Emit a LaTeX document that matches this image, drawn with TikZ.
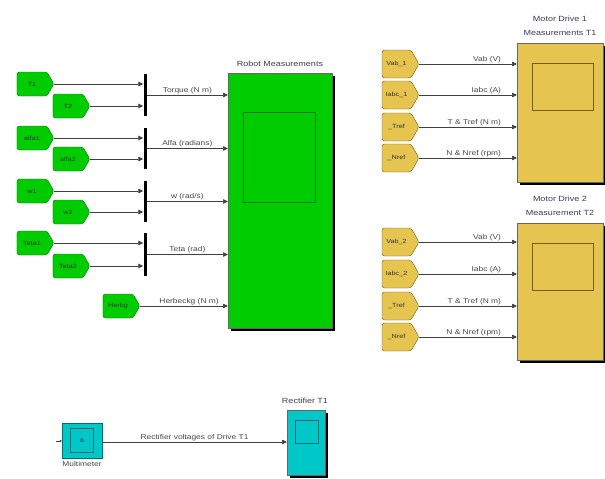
\documentclass[tikz,border=0pt]{standalone}
\usepackage{fontspec}
\setmainfont[FakeStretch=1.2]{Liberation Sans}
\usetikzlibrary{arrows.meta,shapes.symbols,shadows}
\definecolor{sgreen}{RGB}{0,204,0}
\definecolor{sgreendk}{RGB}{0,120,0}
\definecolor{syellow}{RGB}{230,196,80}
\definecolor{syellowdk}{RGB}{120,95,20}
\definecolor{scyan}{RGB}{0,200,200}
\definecolor{scyandk}{RGB}{0,110,110}
\definecolor{txt}{RGB}{70,70,80}
\definecolor{titlec}{RGB}{60,60,90}
\begin{document}
\begin{tikzpicture}[x=1pt,y=-1pt,
  tagbase/.style={signal, signal to=east, signal pointer angle=120, rounded corners=2.5pt,
    minimum width=37pt, inner sep=0pt, font=\fontsize{6}{7}\selectfont, text=black!80},
  gtag/.style={tagbase, draw=sgreendk, fill=sgreen, minimum height=24pt},
  ytag/.style={tagbase, draw=syellowdk, fill=syellow, minimum height=28pt},
  bus/.style={fill=black, inner sep=0pt, minimum width=3pt},
  sig/.style={draw=black!75, line width=0.7pt, -{Triangle[length=5pt,width=4.5pt]}},
  plain/.style={draw=black!75, line width=0.7pt},
  lab/.style={font=\fontsize{7}{8}\selectfont, text=txt, inner sep=1pt},
  scopebox/.style={draw=black!60, line width=0.5pt, inner sep=0pt, anchor=north west,
    drop shadow={shadow xshift=3pt, shadow yshift=-3pt, fill=black, opacity=1}},
  scrn/.style={line width=0.9pt, inner sep=0pt, anchor=north west},
  ttl/.style={font=\fontsize{7.5}{14}\selectfont, text=titlec, align=center}
]
\useasboundingbox (0,0) rectangle (605,479);
\fill[white] (0,0) rectangle (605,479);

% ---------- Robot measurements scope ----------
\node[scopebox, fill=sgreen, minimum width=104pt, minimum height=255pt] (rs) at (228,73) {};
\node[scrn, draw=sgreendk, fill=sgreen, minimum width=72pt, minimum height=90pt] (rsscr) at (243,112) {};
\node[ttl, anchor=south] (rst) at (280,70) {Robot Measurements};

% ---------- left tags and buses ----------
\node[gtag] (t1) at (32,84) {T1};
\node[gtag] (t2) at (68,106) {T2};
\node[bus, minimum height=42pt] (b1) at (145,95) {};
\node[gtag] (a1) at (32,138) {alfa1};
\node[gtag] (a2) at (68,159) {alfa2};
\node[bus, minimum height=41pt] (b2) at (145,148.5) {};
\node[gtag] (w1) at (32,191) {w1};
\node[gtag] (w2) at (68,212) {w2};
\node[bus, minimum height=41pt] (b3) at (145,201.5) {};
\node[gtag] (e1) at (32,243) {Teta1};
\node[gtag] (e2) at (68,266) {Teta2};
\node[bus, minimum height=43pt] (b4) at (145,254.5) {};
\node[gtag] (hb) at (118,306) {Herbg};

\foreach \t/\b in {t1/b1,t2/b1,a1/b2,a2/b2,w1/b3,w2/b3,e1/b4,e2/b4}
  \draw[sig] (\t.east) -- (\b.west |- \t.east);

\draw[sig] (b1.east) -- node[lab, above] {Torque (N m)} (rs.west |- b1.east);
\draw[sig] (b2.east) -- node[lab, above] {Alfa (radians)} (rs.west |- b2.east);
\draw[sig] (b3.east) -- node[lab, above] {w (rad/s)} (rs.west |- b3.east);
\draw[sig] (b4.east) -- node[lab, above] {Teta (rad)} (rs.west |- b4.east);
\draw[sig] (hb.east) -- node[lab, above, xshift=5pt] {Herbeckg (N m)} (rs.west |- hb.east);

% ---------- Motor drive 1 ----------
\node[scopebox, fill=syellow, minimum width=86pt, minimum height=139pt] (m1) at (517,43) {};
\node[scrn, draw=syellowdk, fill=syellow, minimum width=61pt, minimum height=47pt] (m1s) at (532,63) {};
\node[ttl, anchor=south] (m1t) at (560,39) {Motor Drive 1\\Measurements T1};

\node[ytag] (v1) at (396.5,64) {Vab\_1};
\node[ytag] (i1) at (396.5,95) {Iabc\_1};
\node[ytag] (tr1) at (396.5,127) {\_Tref};
\node[ytag] (nr1) at (396.5,158) {\_Nref};
\draw[sig] (v1.east) -- node[lab, above, pos=0.85, anchor=south east] {Vab (V)} (m1.west |- v1.east);
\draw[sig] (i1.east) -- node[lab, above, pos=0.85, anchor=south east] {Iabc (A)} (m1.west |- i1.east);
\draw[sig] (tr1.east) -- node[lab, above, pos=0.85, anchor=south east] {T \& Tref (N m)} (m1.west |- tr1.east);
\draw[sig] (nr1.east) -- node[lab, above, pos=0.85, anchor=south east] {N \& Nref (rpm)} (m1.west |- nr1.east);

% ---------- Motor drive 2 ----------
\node[scopebox, fill=syellow, minimum width=86pt, minimum height=137pt] (m2) at (517,223) {};
\node[scrn, draw=syellowdk, fill=syellow, minimum width=61pt, minimum height=47pt] (m2s) at (532,243) {};
\node[ttl, anchor=south] (m2t) at (560,219) {Motor Drive 2\\Measurement T2};

\node[ytag] (v2) at (396.5,242) {Vab\_2};
\node[ytag] (i2) at (396.5,274) {Iabc\_2};
\node[ytag] (tr2) at (396.5,306) {\_Tref};
\node[ytag] (nr2) at (396.5,337) {\_Nref};
\draw[sig] (v2.east) -- node[lab, above, pos=0.85, anchor=south east] {Vab (V)} (m2.west |- v2.east);
\draw[sig] (i2.east) -- node[lab, above, pos=0.85, anchor=south east] {Iabc (A)} (m2.west |- i2.east);
\draw[sig] (tr2.east) -- node[lab, above, pos=0.85, anchor=south east] {T \& Tref (N m)} (m2.west |- tr2.east);
\draw[sig] (nr2.east) -- node[lab, above, pos=0.85, anchor=south east] {N \& Nref (rpm)} (m2.west |- nr2.east);

% ---------- Bottom: multimeter and rectifier scope ----------
\node[draw=scyandk, fill=scyan, minimum width=40pt, minimum height=35pt, inner sep=0pt] (mm) at (82,440.5) {};
\node[draw=scyandk, fill=scyan, line width=0.8pt, minimum width=23pt, minimum height=24pt, inner sep=0pt,
  font=\fontsize{5}{6}\selectfont] (mmi) at (mm.center) {0};
\node[lab, anchor=north] (mmt) at (82,460) {Multimeter};
\coordinate (mmin) at (56,441);
\draw[plain, -{Triangle[length=2pt,width=2.5pt]}] (mmin) -- (mm.west |- mmin);

\node[scopebox, fill=scyan, minimum width=38pt, minimum height=65pt] (rt) at (287,410) {};
\node[scrn, draw=scyandk, fill=scyan, minimum width=23pt, minimum height=23pt] (rts) at (295,420) {};
\node[ttl, anchor=south] (rtt) at (305,407) {Rectifier T1};
\draw[sig] (mm.east |- 0,442) -- node[lab, above] {Rectifier voltages of Drive T1} (rt.west |- 0,442);
\end{tikzpicture}
\end{document}
